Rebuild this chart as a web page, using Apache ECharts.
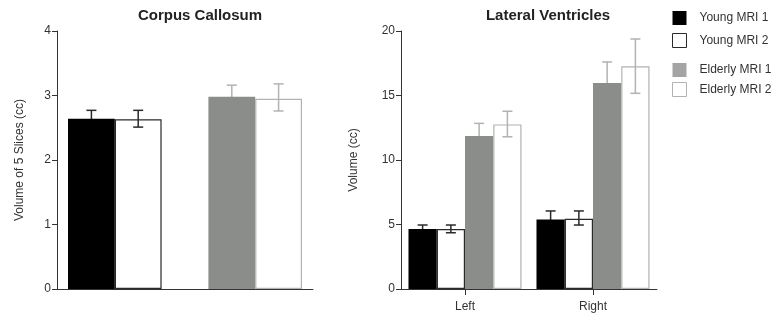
<!DOCTYPE html>
<html>
<head>
<meta charset="utf-8">
<script src="https://cdn.jsdelivr.net/npm/echarts@6/dist/echarts.min.js"></script>
<style>html,body{margin:0;padding:0;background:#fff}#c{width:778px;height:320px}</style>
</head>
<body>
<div id="c"></div>
<script>
// ---- Data ----
const seriesNames = ['Young MRI 1', 'Young MRI 2', 'Elderly MRI 1', 'Elderly MRI 2'];

// Corpus Callosum (single group)
const ccCategories = [''];
const ccYoung1 = [2.64];
const ccYoung2 = [2.63];
const ccElderly1 = [2.98];
const ccElderly2 = [2.95];
const ccYoung1Err = [[2.51, 2.77]];
const ccYoung2Err = [[2.51, 2.77]];
const ccElderly1Err = [[2.80, 3.16]];
const ccElderly2Err = [[2.76, 3.18]];
const ccTicks = [0, 1, 2, 3, 4];

// Lateral Ventricles
const lvCategories = ['Left', 'Right'];
const lvYoung1 = [4.65, 5.38];
const lvYoung2 = [4.65, 5.45];
const lvElderly1 = [11.86, 15.97];
const lvElderly2 = [12.76, 17.26];
const lvYoung1Err = [[4.34, 4.96], [4.71, 6.05]];
const lvYoung2Err = [[4.36, 4.96], [4.96, 6.05]];
const lvElderly1Err = [[10.88, 12.84], [14.34, 17.60]];
const lvElderly2Err = [[11.80, 13.78], [15.17, 19.38]];
const lvTicks = [0, 5, 10, 15, 20];

// ---- Styles ----
const C_BLACK = '#000000';
const C_GREY = '#8b8d8b';
const C_DARK = '#2a2a2a';
const C_LIGHT = '#b2b2b2';
const FONT = 'Liberation Sans, Arial, Helvetica, sans-serif';

const CC_GAP = 0.086, CC_SLOTS = 5;
const LV_GAP = 0.117, LV_SLOTS = 4;

function errSeries(name, axisIdx, slot, nSlots, gap, color, z, errs) {
  return {
    type: 'custom', name: name,
    xAxisIndex: axisIdx, yAxisIndex: axisIdx, z: z,
    silent: true,
    encode: { x: 0, y: [1, 2] },
    data: errs.map((e, i) => [i, e[0], e[1]]),
    renderItem: function (params, api) {
      const ci = api.value(0);
      const lo = api.coord([ci, api.value(1)]);
      const hi = api.coord([ci, api.value(2)]);
      const band = api.size([1, 0])[0];
      const total = band * (1 - gap);
      const bw = total / nSlots;
      const x = lo[0] - total / 2 + (slot + 0.5) * bw;
      const hw = 5;
      const st = { stroke: color, lineWidth: 1.5 };
      return {
        type: 'group',
        children: [
          { type: 'line', shape: { x1: x, y1: lo[1], x2: x, y2: hi[1] }, style: st },
          { type: 'line', shape: { x1: x - hw, y1: hi[1], x2: x + hw, y2: hi[1] }, style: st },
          { type: 'line', shape: { x1: x - hw, y1: lo[1], x2: x + hw, y2: lo[1] }, style: st }
        ]
      };
    }
  };
}

function barSeries(name, axisIdx, data, itemStyle, gap) {
  return {
    type: 'bar', name: name, xAxisIndex: axisIdx, yAxisIndex: axisIdx,
    data: data, barGap: '0%', barCategoryGap: (gap * 100) + '%',
    itemStyle: itemStyle, z: 2, silent: true
  };
}

const styles = [
  { color: C_BLACK, borderWidth: 0 },
  { color: '#ffffff', borderColor: C_DARK, borderWidth: 1.2 },
  { color: C_GREY, borderWidth: 0 },
  { color: '#ffffff', borderColor: C_LIGHT, borderWidth: 1.2 }
];
const errColors = [C_DARK, C_DARK, C_LIGHT, C_LIGHT];
const errZ = [1, 3, 1, 3];

const series = [];
// left chart
const ccData = [ccYoung1, ccYoung2, ccElderly1, ccElderly2];
const ccErrs = [ccYoung1Err, ccYoung2Err, ccElderly1Err, ccElderly2Err];
const ccSlots = [0, 1, 3, 4];
series.push(barSeries(seriesNames[0], 0, ccData[0], styles[0], CC_GAP));
series.push(barSeries(seriesNames[1], 0, ccData[1], styles[1], CC_GAP));
series.push(barSeries('spacer', 0, ccCategories.map(() => '-'), { color: 'transparent' }, CC_GAP));
series.push(barSeries(seriesNames[2], 0, ccData[2], styles[2], CC_GAP));
series.push(barSeries(seriesNames[3], 0, ccData[3], styles[3], CC_GAP));
for (let k = 0; k < 4; k++) {
  series.push(errSeries(seriesNames[k], 0, ccSlots[k], CC_SLOTS, CC_GAP, errColors[k], errZ[k], ccErrs[k]));
}
// right chart
const lvData = [lvYoung1, lvYoung2, lvElderly1, lvElderly2];
const lvErrs = [lvYoung1Err, lvYoung2Err, lvElderly1Err, lvElderly2Err];
for (let k = 0; k < 4; k++) {
  series.push(barSeries(seriesNames[k], 1, lvData[k], styles[k], LV_GAP));
}
for (let k = 0; k < 4; k++) {
  series.push(errSeries(seriesNames[k], 1, k, LV_SLOTS, LV_GAP, errColors[k], errZ[k], lvErrs[k]));
}

const axisLine = { show: true, lineStyle: { color: '#333', width: 1 } };
const axisLabel = { color: '#333', fontSize: 12, fontFamily: FONT };

const legendCommon = {
  orient: 'vertical', left: 667, itemWidth: 14, itemHeight: 14,
  icon: 'rect', selectedMode: false,
  textStyle: { color: '#333', fontSize: 12, fontFamily: FONT, padding: [0, 0, 0, 8] }
};

const chart = echarts.init(document.getElementById('c'), null, { renderer: 'canvas' });
chart.setOption({
  animation: false,
  backgroundColor: '#fff',
  title: [
    { text: 'Corpus Callosum', left: 195, top: 3, textAlign: 'center',
      textStyle: { fontSize: 15, fontWeight: 'bold', color: '#222', fontFamily: FONT } },
    { text: 'Lateral Ventricles', left: 543, top: 3, textAlign: 'center',
      textStyle: { fontSize: 15, fontWeight: 'bold', color: '#222', fontFamily: FONT } }
  ],
  legend: [
    Object.assign({}, legendCommon, { top: 6, itemGap: 8,
      data: [
        { name: seriesNames[0], itemStyle: { borderWidth: 0 } },
        { name: seriesNames[1], itemStyle: { borderWidth: 1, borderColor: C_DARK } }
      ] }),
    Object.assign({}, legendCommon, { top: 58, itemGap: 5,
      data: [
        { name: seriesNames[2], itemStyle: { color: '#a3a4a3', borderWidth: 0 } },
        { name: seriesNames[3], itemStyle: { borderWidth: 1, borderColor: C_LIGHT } }
      ] })
  ],
  grid: [
    { left: 57, width: 256, top: 31, height: 258 },
    { left: 401, width: 256, top: 31, height: 258 }
  ],
  xAxis: [
    { type: 'category', gridIndex: 0, data: ccCategories, axisLine: axisLine,
      axisTick: { show: false }, axisLabel: { show: false }, splitLine: { show: false } },
    { type: 'category', gridIndex: 1, data: lvCategories, axisLine: axisLine,
      axisTick: { show: true, alignWithLabel: true, length: 6, lineStyle: { color: '#333' } },
      axisLabel: Object.assign({ margin: 12 }, axisLabel), splitLine: { show: false } }
  ],
  yAxis: [
    { type: 'value', gridIndex: 0, min: ccTicks[0], max: ccTicks[ccTicks.length - 1], interval: ccTicks[1] - ccTicks[0],
      name: 'Volume of 5 Slices (cc)', nameLocation: 'middle', nameGap: 31,
      nameTextStyle: { color: '#333', fontSize: 12, fontFamily: FONT },
      axisLine: axisLine, axisTick: { show: true, length: 5, lineStyle: { color: '#333' } },
      axisLabel: Object.assign({ margin: 6 }, axisLabel), splitLine: { show: false } },
    { type: 'value', gridIndex: 1, min: lvTicks[0], max: lvTicks[lvTicks.length - 1], interval: lvTicks[1] - lvTicks[0],
      name: 'Volume (cc)', nameLocation: 'middle', nameGap: 41,
      nameTextStyle: { color: '#333', fontSize: 12, fontFamily: FONT },
      axisLine: axisLine, axisTick: { show: true, length: 5, lineStyle: { color: '#333' } },
      axisLabel: Object.assign({ margin: 6 }, axisLabel), splitLine: { show: false } }
  ],
  series: series
});
</script>
</body>
</html>
